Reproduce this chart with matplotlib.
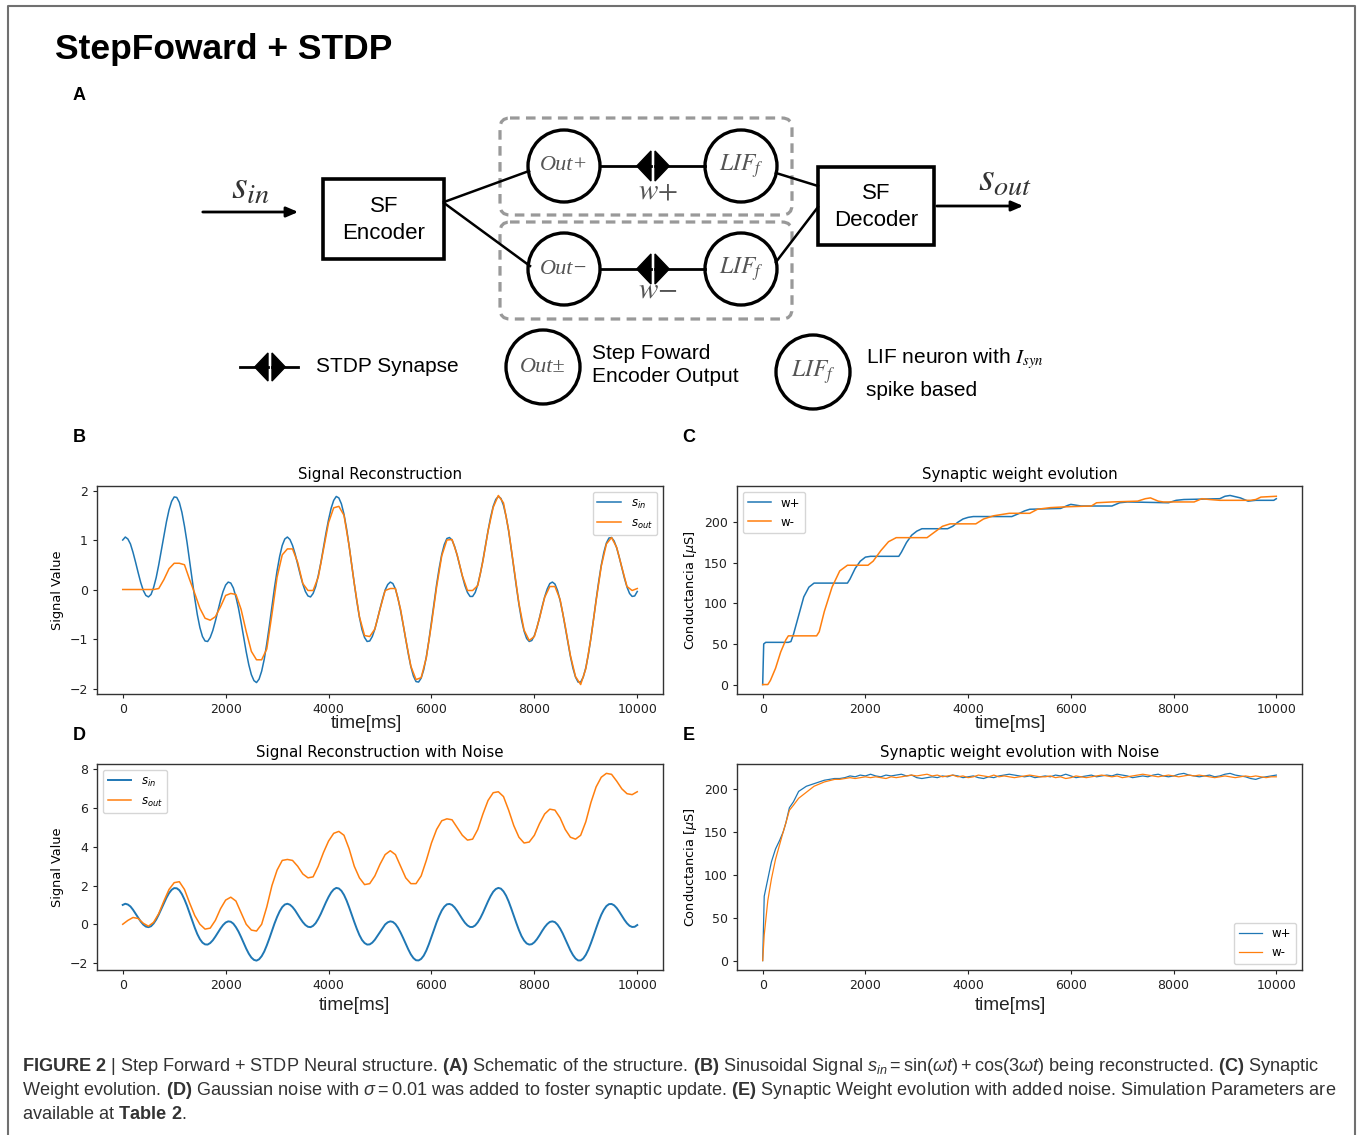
import numpy as np
import matplotlib.pyplot as plt
from matplotlib.patches import Rectangle, Circle, FancyBboxPatch, Polygon
from matplotlib.font_manager import FontProperties

plt.rcParams['mathtext.rm'] = 'Liberation Sans'
plt.rcParams['mathtext.it'] = 'Liberation Sans:italic'
plt.rcParams['mathtext.bf'] = 'Liberation Sans:bold'

# ---- data ----
# (B) / (D) input signal, sampled every 50 ms from 0 to 10000 ms
s_in = [1.00, 1.06, 1.02, 0.92, 0.75, 0.55, 0.34, 0.14, -0.02, -0.12,
        -0.15, -0.10, 0.04, 0.24, 0.50, 0.79, 1.09, 1.37, 1.61, 1.78,
        1.87, 1.86, 1.76, 1.56, 1.28, 0.95, 0.57, 0.18, -0.18, -0.51,
        -0.77, -0.95, -1.04, -1.05, -0.97, -0.83, -0.64, -0.43, -0.22, -0.04,
        0.09, 0.15, 0.13, 0.03, -0.15, -0.38, -0.66, -0.96, -1.26, -1.52,
        -1.72, -1.84, -1.88, -1.81, -1.65, -1.41, -1.09, -0.73, -0.34, 0.04,
        0.38, 0.67, 0.89, 1.02, 1.06, 1.01, 0.89, 0.72, 0.51, 0.30,
        0.11, -0.04, -0.13, -0.15, -0.08, 0.06, 0.28, 0.54, 0.84, 1.14,
        1.41, 1.64, 1.80, 1.88, 1.85, 1.73, 1.52, 1.23, 0.88, 0.50,
        0.12, -0.24, -0.56, -0.81, -0.97, -1.05, -1.04, -0.95, -0.80, -0.60,
        -0.39, -0.19, -0.01, 0.10, 0.15, 0.12, 0.01, -0.18, -0.43, -0.71,
        -1.01, -1.30, -1.56, -1.75, -1.86, -1.87, -1.79, -1.62, -1.36, -1.03,
        -0.66, -0.28, 0.10, 0.43, 0.71, 0.91, 1.03, 1.05, 1.00, 0.87,
        0.69, 0.48, 0.27, 0.08, -0.06, -0.14, -0.14, -0.06, 0.10, 0.32,
        0.59, 0.89, 1.19, 1.46, 1.68, 1.82, 1.88, 1.84, 1.70, 1.48,
        1.18, 0.82, 0.44, 0.06, -0.30, -0.61, -0.84, -0.99, -1.05, -1.03,
        -0.93, -0.77, -0.57, -0.35, -0.15, 0.01, 0.12, 0.15, 0.11, -0.02,
        -0.22, -0.47, -0.76, -1.06, -1.35, -1.59, -1.77, -1.87, -1.87, -1.77,
        -1.58, -1.31, -0.97, -0.60, -0.21, 0.16, 0.49, 0.75, 0.94, 1.04,
        1.05, 0.98, 0.84, 0.65, 0.44, 0.23, 0.05, -0.08, -0.14, -0.13,
        -0.04]

# (B) reconstructed output, sampled every 100 ms
s_out = [0.00, 0.00, 0.00, 0.00, 0.00, 0.00, 0.00, 0.02, 0.20, 0.42,
         0.53, 0.53, 0.50, 0.20, -0.08, -0.38, -0.58, -0.62, -0.55, -0.35,
         -0.12, -0.08, -0.10, -0.40, -0.85, -1.25, -1.42, -1.42, -1.20, -0.50,
         0.25, 0.70, 0.82, 0.82, 0.55, 0.12, -0.02, -0.02, 0.25, 0.80,
         1.35, 1.65, 1.68, 1.50, 0.88, 0.12, -0.55, -0.93, -0.95, -0.80,
         -0.40, -0.02, 0.02, 0.02, -0.40, -1.00, -1.55, -1.82, -1.78, -1.38,
         -0.70, 0.05, 0.68, 1.00, 1.01, 0.70, 0.28, -0.02, -0.02, 0.08,
         0.57, 1.18, 1.66, 1.90, 1.75, 1.20, 0.46, -0.28, -0.82, -1.03,
         -0.95, -0.58, -0.16, 0.06, 0.06, -0.20, -0.74, -1.33, -1.76, -1.92,
         -1.60, -0.98, -0.23, 0.47, 0.92, 1.05, 0.85, 0.45, 0.06, -0.02,
         0.02]

# (D) reconstructed output with noise, sampled every 100 ms
s_out_noise = [0.00, 0.20, 0.35, 0.30, 0.05, -0.10, 0.10, 0.55, 1.20, 1.80,
               2.15, 2.20, 1.80, 1.10, 0.45, 0.00, -0.25, -0.20, 0.20, 0.80,
               1.25, 1.40, 1.20, 0.60, 0.00, -0.30, -0.35, 0.00, 0.90, 2.00,
               2.80, 3.30, 3.35, 3.30, 3.00, 2.60, 2.40, 2.45, 3.00, 3.70,
               4.30, 4.70, 4.80, 4.60, 3.90, 3.00, 2.40, 2.05, 2.10, 2.50,
               3.10, 3.60, 3.80, 3.60, 3.00, 2.40, 2.10, 2.10, 2.50, 3.30,
               4.20, 4.90, 5.35, 5.45, 5.40, 5.00, 4.60, 4.35, 4.40, 4.90,
               5.70, 6.40, 6.80, 6.85, 6.60, 5.90, 5.10, 4.50, 4.20, 4.25,
               4.60, 5.20, 5.70, 5.95, 5.90, 5.50, 4.90, 4.50, 4.40, 4.60,
               5.30, 6.30, 7.10, 7.60, 7.80, 7.75, 7.40, 7.00, 6.75, 6.70,
               6.85]

# (C) synaptic weights, no noise
wp_t = [0, 20, 60, 500, 550, 600, 700, 800, 900, 1000,
        1650, 1700, 1800, 1900, 2000, 2100, 2650, 2700, 2800, 2900,
        3000, 3100, 3600, 3700, 3800, 3900, 4000, 4100, 4850, 5000,
        5100, 5200, 5800, 5950, 6000, 6200, 6800, 6950, 7100, 7900,
        8050, 8200, 8900, 9000, 9100, 9300, 9450, 9600, 9950, 10000]
wp_v = [0, 50, 52, 52, 53, 62, 85, 108, 120, 125,
        125, 130, 143, 152, 157, 158, 158, 163, 175, 184,
        189, 192, 192, 195, 200, 204, 206, 207, 207, 211,
        214, 216, 217, 221, 222, 220, 220, 224, 225, 224,
        227, 228, 229, 232, 233, 230, 226, 227, 227, 229]
wm_t = [0, 100, 150, 250, 350, 450, 500, 1050, 1100, 1200,
        1350, 1500, 1650, 2050, 2150, 2300, 2450, 2600, 3200, 3350,
        3500, 3650, 4150, 4300, 4500, 4800, 5200, 5350, 5600, 5900,
        6400, 6500, 6800, 7300, 7450, 7550, 7700, 7800, 8400, 8550,
        8700, 8900, 9500, 9600, 9700, 10000]
wm_v = [0, 0, 5, 20, 40, 55, 60, 60, 65, 90,
        120, 140, 147, 147, 152, 165, 176, 181, 181, 188,
        195, 198, 198, 204, 208, 211, 211, 216, 218, 219,
        220, 224, 225, 226, 229, 230, 226, 225, 225, 229,
        228, 227, 227, 228, 231, 232]

# (E) synaptic weights with noise: fast rise, then a noisy plateau every 100 ms
e_rise_t = [0, 30, 100, 170, 250, 330, 400, 450, 520, 600, 700, 850, 1000, 1200, 1400]
e_wp_rise = [0, 75, 95, 115, 130, 140, 150, 160, 178, 185, 197, 203, 206, 210, 212]
e_wm_rise = [0, 30, 70, 95, 118, 135, 150, 160, 175, 181, 189, 196, 203, 208, 211]
e_wp_tail = [212, 213, 215, 214, 216, 215, 217, 215, 214, 216,
             215, 216, 217, 215, 216, 213, 212, 213, 214, 213,
             215, 214, 216, 215, 213, 214, 215, 213, 212, 214,
             213, 215, 216, 217, 216, 215, 214, 215, 213, 214,
             215, 214, 216, 215, 217, 215, 213, 214, 215, 216,
             214, 215, 216, 215, 217, 216, 215, 213, 214, 215,
             214, 216, 217, 215, 214, 215, 217, 218, 216, 215,
             214, 215, 216, 214, 215, 217, 218, 216, 215, 214,
             212, 211, 213, 214, 215, 216]
e_wm_tail = [211, 212, 213, 212, 213, 214, 213, 214, 213, 212,
             214, 213, 214, 215, 216, 215, 216, 217, 215, 216,
             214, 215, 216, 214, 215, 213, 214, 216, 215, 214,
             216, 214, 215, 214, 213, 214, 215, 216, 215, 214,
             214, 215, 213, 214, 212, 213, 215, 214, 213, 214,
             215, 216, 215, 214, 215, 213, 214, 215, 216, 217,
             216, 215, 214, 215, 216, 215, 214, 215, 216, 215,
             216, 215, 214, 213, 214, 215, 214, 213, 214, 215,
             214, 215, 214, 213, 214, 214]

BLUE, ORANGE = '#1f77b4', '#ff7f0e'
W, H = 1357, 1135
SANS = 'Liberation Sans'

fig = plt.figure(figsize=(W / 100, H / 100), dpi=100)

# background axes in pixel units for the frame and the schematic
ax0 = fig.add_axes([0, 0, 1, 1])
ax0.set_xlim(0, W)
ax0.set_ylim(H, 0)
ax0.axis('off')

ax0.plot([8, 8, 1355, 1355], [H, 6, 6, H], color='#707070', lw=1.5, clip_on=False)


def ftext(x, y, s, **kw):
    return fig.text(x / W, 1 - y / H, s, **kw)


ftext(55, 50, 'StepFoward + STDP', fontsize=25.5, fontweight='bold', family=SANS, va='center')
for lab, (x, y) in {'A': (79, 95), 'B': (79, 437), 'C': (689, 437), 'D': (79, 736), 'E': (689, 736)}.items():
    ftext(x, y, lab, fontsize=13, fontweight='bold', family=SANS, ha='center', va='center')


# ---- schematic (A) ----
def synapse(cx, cy, h, x0, x1):
    g = 2.0
    ax0.plot([x0, cx - g], [cy, cy], color='k', lw=2)
    ax0.plot([cx + g, x1], [cy, cy], color='k', lw=2)
    ax0.add_patch(Polygon([(cx - g, cy - h), (cx - g, cy + h), (cx - g - h * 0.95, cy)], color='k'))
    ax0.add_patch(Polygon([(cx + g, cy - h), (cx + g, cy + h), (cx + g + h * 0.95, cy)], color='k'))


def neuron(cx, cy, label, math=False, r=36):
    ax0.add_patch(Circle((cx, cy), r, fill=False, lw=2.4, ec='k'))
    if math:
        ax0.text(cx, cy, label, fontsize=17, color='#555555', ha='center', va='center',
                 math_fontfamily='stix')
    else:
        ax0.text(cx, cy, label, fontsize=16, color='#555555', ha='center', va='center',
                 family='Liberation Serif', style='italic')


# dashed groups
for y0 in (118, 222):
    ax0.add_patch(FancyBboxPatch((500, y0), 292, 97, boxstyle='round,pad=0,rounding_size=10',
                                 fill=False, ec='#999999', lw=2.3, ls=(0, (3, 2))))

# boxes
ax0.add_patch(Rectangle((323, 179), 121, 80, fill=False, lw=2.6, ec='k'))
ax0.text(384, 220, 'SF\nEncoder', family=SANS, fontsize=16, ha='center', va='center', linespacing=1.35)
ax0.add_patch(Rectangle((818, 167), 116, 78, fill=False, lw=2.6, ec='k'))
ax0.text(876, 207, 'SF\nDecoder', family=SANS, fontsize=16, ha='center', va='center', linespacing=1.35)

# arrows
ax0.annotate('', xy=(301, 212), xytext=(200, 212),
             arrowprops=dict(arrowstyle='-|>,head_length=0.7,head_width=0.3', color='k', lw=2))
ax0.annotate('', xy=(1026, 206), xytext=(934, 206),
             arrowprops=dict(arrowstyle='-|>,head_length=0.7,head_width=0.3', color='k', lw=2))
ax0.text(250, 188, r'$s_{in}$', fontsize=29, color='#333333', ha='center', va='center', math_fontfamily='stix')
ax0.text(1005, 180, r'$s_{out}$', fontsize=29, color='#333333', ha='center', va='center', math_fontfamily='stix')

# connections
ax0.plot([444, 529], [202, 171], color='k', lw=1.8)
ax0.plot([444, 530], [203, 266], color='k', lw=1.8)
ax0.plot([776, 818], [173, 186], color='k', lw=1.8)
ax0.plot([776, 818], [262, 207], color='k', lw=1.8)

neuron(564, 166, 'Out+')
neuron(564, 269, 'Out\u2212')
neuron(741, 166, r'$LIF_f$', math=True)
neuron(741, 269, r'$LIF_f$', math=True)
synapse(653, 166, 15, 600, 705)
synapse(653, 269, 15, 600, 705)
ax0.text(658, 190, r'$w{+}$', fontsize=21, color='#555555', ha='center', va='center', math_fontfamily='stix')
ax0.text(658, 290, r'$w{-}$', fontsize=21, color='#555555', ha='center', va='center', math_fontfamily='stix')

# schematic key
synapse(270, 367, 14, 240, 298)
ax0.text(316, 367, 'STDP Synapse', family=SANS, fontsize=15, va='center')
neuron(543, 367, 'Out\u00b1', r=37)
ax0.text(592, 365, 'Step Foward\nEncoder Output', family=SANS, fontsize=15, va='center', linespacing=1.3)
neuron(813, 372, r'$LIF_f$', math=True, r=37)
ax0.text(866, 359, r'LIF neuron with $I_{syn}$', family=SANS, fontsize=15, va='center', math_fontfamily='stix')
ax0.text(866, 391, 'spike based', family=SANS, fontsize=15, va='center')


# ---- plots ----
def make_ax(x0, y0, x1, y1):
    ax = fig.add_axes([x0 / W, 1 - y1 / H, (x1 - x0) / W, (y1 - y0) / H])
    ax.tick_params(labelsize=9, length=3, width=0.8, colors='#222222')
    for sp in ax.spines.values():
        sp.set_linewidth(1.0)
        sp.set_color('#333333')
    return ax


t_in = np.linspace(0, 10000, len(s_in))
t_out = np.linspace(0, 10000, len(s_out))
leg_font = FontProperties(size=8.5)

axB = make_ax(97, 486, 663, 694)
axB.plot(t_in, s_in, color=BLUE, lw=1.1, label=r'$s_{in}$')
axB.plot(t_out, s_out, color=ORANGE, lw=1.1, label=r'$s_{out}$')
axB.set_title('Signal Reconstruction', fontsize=10.8, pad=5)
axB.set_ylabel('Signal Value', fontsize=9.3)
axB.legend(loc='upper right', prop=leg_font)

axC = make_ax(737, 486, 1302, 694)
axC.plot(wp_t, wp_v, color=BLUE, lw=1.1, label='w+')
axC.plot(wm_t, wm_v, color=ORANGE, lw=1.1, label='w-')
axC.set_title('Synaptic weight evolution', fontsize=10.8, pad=5)
axC.set_ylabel(r'Conductancia [$\mu$S]', fontsize=9.3)
axC.set_yticks([0, 50, 100, 150, 200])
axC.legend(loc='upper left', prop=leg_font)

axD = make_ax(97, 764, 663, 970)
axD.plot(t_in, s_in, color=BLUE, lw=1.4, label=r'$s_{in}$')
axD.plot(t_out, s_out_noise, color=ORANGE, lw=1.1, label=r'$s_{out}$')
axD.set_title('Signal Reconstruction with Noise', fontsize=10.8, pad=5)
axD.set_ylabel('Signal Value', fontsize=9.3)
axD.set_yticks([-2, 0, 2, 4, 6, 8])
axD.legend(loc='upper left', prop=leg_font)

t_tail = np.linspace(1500, 10000, len(e_wp_tail))
t_e = list(e_rise_t) + list(t_tail)
axE = make_ax(737, 764, 1302, 970)
axE.plot(t_e, e_wp_rise + e_wp_tail, color=BLUE, lw=0.9, label='w+')
axE.plot(t_e, e_wm_rise + e_wm_tail, color=ORANGE, lw=0.9, label='w-')
axE.set_title('Synaptic weight evolution with Noise', fontsize=10.8, pad=5)
axE.set_ylabel(r'Conductancia [$\mu$S]', fontsize=9.3)
axE.set_yticks([0, 50, 100, 150, 200])
axE.legend(loc='lower right', prop=leg_font)

for x, y in [(366, 724), (1010, 724), (354, 1005), (1010, 1005)]:
    ftext(x, y, 'time[ms]', family=SANS, fontsize=13.7, ha='center', va='center', color='#222222')

# ---- caption ----
cap = [
    r'$\mathbf{FIGURE\ 2}$ | Step Forward + STDP Neural structure. $\mathbf{(A)}$ Schematic of the structure. '
    r'$\mathbf{(B)}$ Sinusoidal Signal $s_{in} = \mathrm{sin}(\omega t) + \mathrm{cos}(3\omega t)$ being reconstructed. '
    r'$\mathbf{(C)}$ Synaptic',
    r'Weight evolution. $\mathbf{(D)}$ Gaussian noise with $\sigma = 0.01$ was added to foster synaptic update. '
    r'$\mathbf{(E)}$ Synaptic Weight evolution with added noise. Simulation Parameters are',
    r'available at $\mathbf{Table\ 2}$.',
]
for i, line in enumerate(cap):
    ftext(22, 1071 + 24 * i, line, family=SANS, fontsize=13.05, color='#333333', va='baseline',
          math_fontfamily='custom')

fig.savefig('out.png', dpi=100)
